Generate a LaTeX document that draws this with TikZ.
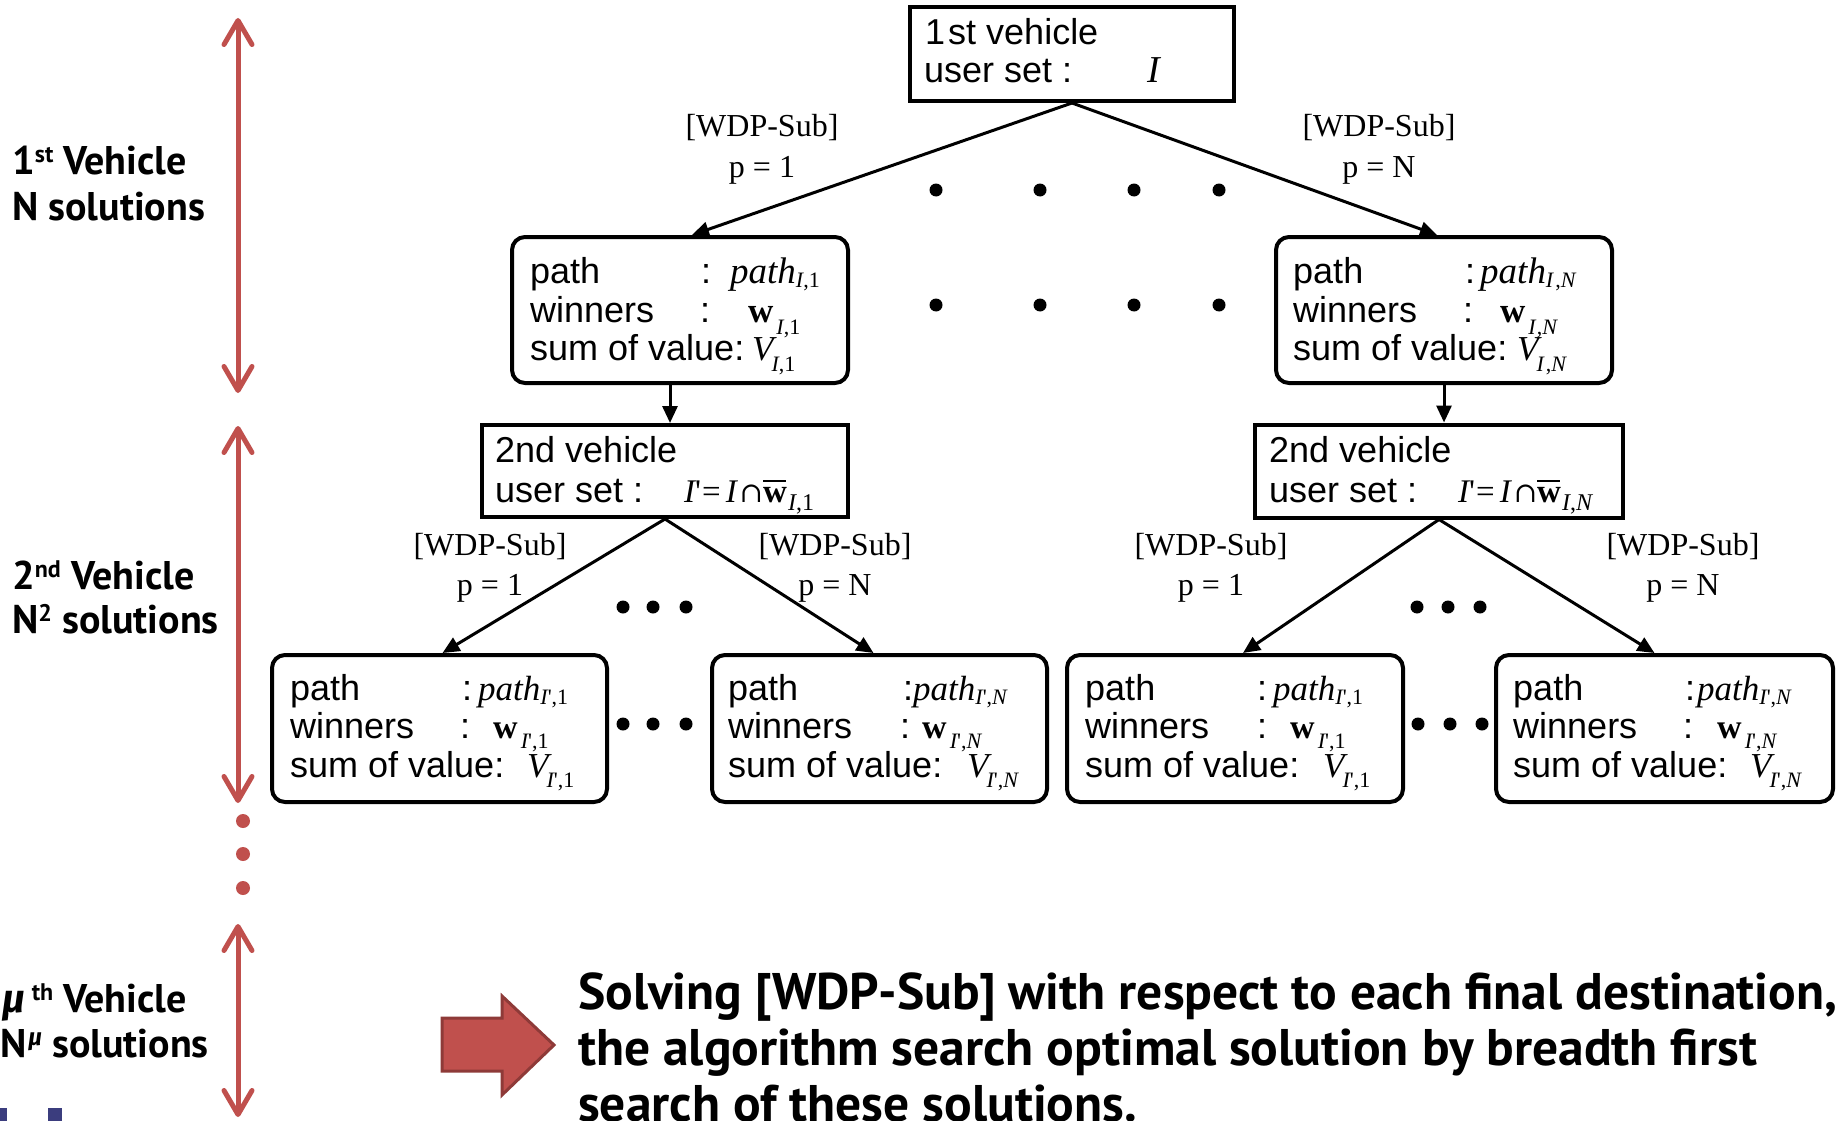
\documentclass[tikz,border=0pt]{standalone}
\usepackage{fontspec}
\setmainfont{Liberation Sans}
\newfontfamily\tnr{Liberation Serif}
\newfontfamily\symf{DejaVu Serif}
\newfontfamily\hd{PT Sans}
\newfontfamily\grk{Fira Sans}
\usetikzlibrary{arrows.meta,calc}
\definecolor{rd}{HTML}{C0504D}
\definecolor{rddark}{HTML}{8E3A38}
\definecolor{navy}{HTML}{3B3D7E}
\newcommand\fs[1]{\fontsize{#1}{#1}\selectfont}
% serif italic symbol, lowered index, barred bold w
\newcommand\ix[1]{{\itshape #1}}
\newcommand\low[2]{\raisebox{-#1pt}{\tnr\fs{22}\mdseries\upshape #2}}
\newcommand\wbar{\leavevmode\rlap{\raisebox{20pt}{\rule{23pt}{1.7pt}}}{\upshape\bfseries w}}
\newcommand\userset[1]{{\tnr\fs{33}\itshape I\upshape'\kern1pt=\kern5pt\itshape I\kern3pt{\symf\upshape\fs{28}∩}\wbar\kern1pt\low{8}{\fs{24}#1}}}
\begin{document}
\begin{tikzpicture}[x=1pt,y=-1pt,
  sqbox/.style={draw,line width=4pt,inner sep=0pt},
  rdbox/.style={draw,line width=4pt,inner sep=0pt,rounded corners=13pt,minimum width=336pt,minimum height=146pt},
  row/.style={inner sep=0pt,anchor=base west,font=\fs{36}},
  lab/.style={inner sep=0pt,font=\tnr\fs{32}},
  side/.style={inner sep=0pt,anchor=base west,font=\hd\bfseries\fs{40}},
  big/.style={inner sep=0pt,anchor=base west,font=\hd\bfseries\fs{51.5}},
  conn/.style={line width=3pt,-{Triangle[length=17pt,width=15pt]}},
  span/.style={rd,line width=5pt,{Straight Barb[length=24pt,width=28pt,line cap=round,line join=round]}-{Straight Barb[length=24pt,width=28pt,line cap=round,line join=round]}},
  dot/.style={fill=black},
  rdot/.style={fill=rd}]
\useasboundingbox (0,0) rectangle (1839,1121);
\begin{scope}
\clip (0,0) rectangle (1839,1121);

% ---------- boxes ----------
\node[sqbox,minimum width=324pt,minimum height=94pt] (v1) at (1072,54) {};
\node[rdbox] (l1a) at (680,310) {};
\node[rdbox] (l1b) at (1444,310) {};
\node[sqbox,minimum width=366pt,minimum height=92pt] (v2a) at (665,471) {};
\node[sqbox,minimum width=368pt,minimum height=93pt] (v2b) at (1439,471) {};
\node[rdbox,minimum width=335pt,minimum height=147pt] (l3a) at (439.5,728.5) {};
\node[rdbox,minimum width=335pt,minimum height=147pt] (l3b) at (879.5,728.5) {};
\node[rdbox,minimum width=336pt,minimum height=147pt] (l3c) at (1235,728.5) {};
\node[rdbox,minimum width=337pt,minimum height=147pt] (l3d) at (1664.5,728.5) {};

% ---------- first vehicle ----------
\node[row] (v1t) at (925,45) {1\kern3pt st vehicle};
\node[row] (v1u) at (924,83) {user set :};
\node[row] (v1i) at (1147,83) {\tnr\fs{38}\itshape I};

% ---------- first-level solutions ----------
\node[row] (a1) at (530,283) {path};
\node[row] (a2) at (701,283) {:};
\node[row] (a3) at (730,283) {\tnr\fs{37}\itshape path\low{4}{\ix{I},1}};
\node[row] (a4) at (530,322) {winners};
\node[row] (a5) at (700,322) {:};
\node[row] (a6) at (748,322) {\tnr\fs{35}\bfseries w\kern3pt\low{12}{\ix{I},1}};
\node[row] (a7) at (530,360) {sum of value:};
\node[row] (a8) at (752,360) {\tnr\fs{35}\itshape V\kern-2pt\low{11}{\ix{I},1}};

\node[row] (b1) at (1293,283) {path};
\node[row] (b2) at (1465,283) {:};
\node[row] (b3) at (1480,283) {\tnr\fs{37}\itshape path\low{4}{\ix{I}\kern2pt,\ix{N}}};
\node[row] (b4) at (1293,322) {winners};
\node[row] (b5) at (1463,322) {:};
\node[row] (b6) at (1500,322) {\tnr\fs{35}\bfseries w\kern3pt\low{12}{\ix{I}\kern1pt,\ix{N}}};
\node[row] (b7) at (1293,360) {sum of value:};
\node[row] (b8) at (1517,360) {\tnr\fs{35}\itshape V\kern-2pt\low{11}{\ix{I}\kern2pt,\ix{N}}};

% ---------- second vehicle ----------
\node[row] (c1) at (495,462) {2nd vehicle};
\node[row] (c2) at (495,502) {user set :};
\node[row] (c3) at (684,502) {\userset{\ix{I},1}};
\node[row] (d1) at (1269,462) {2nd vehicle};
\node[row] (d2) at (1269,502) {user set :};
\node[row] (d3) at (1458,502) {\userset{\ix{I},\ix{N}}};

% ---------- second-level solutions ----------
\foreach \nm/\sx/\cp/\mx/\cw/\wx/\vx/\sub in {
  e/290/462/478/460/493/527/{\ix{I}',1},
  f/728/903/913/900/922/967/{\ix{I}',\ix{N}},
  g/1085/1257/1273/1257/1290/1323/{\ix{I}',1},
  h/1513/1685/1697/1683/1717/1750/{\ix{I}',\ix{N}}}{
  \node[row] (\nm1) at (\sx,700) {path};
  \node[row] (\nm2) at (\cp,700) {:};
  \node[row] (\nm3) at (\mx,700) {\tnr\fs{35}\itshape path\low{4}{\sub}};
  \node[row] (\nm4) at (\sx,738) {winners};
  \node[row] (\nm5) at (\cw,738) {:};
  \node[row] (\nm6) at (\wx,738) {\tnr\fs{34}\bfseries w\kern3pt\low{10}{\sub}};
  \node[row] (\nm7) at (\sx,777) {sum of value:};
  \node[row] (\nm8) at (\vx,777) {\tnr\fs{35}\itshape V\kern-2pt\low{10}{\sub}};
}

% ---------- connectors ----------
\draw[conn] (v1.south) -- ($(l1a.north)+(12,0)$);
\draw[conn] (v1.south) -- ($(l1b.north)+(-7,0)$);
\path ($(l1a.south)+(-10,0)$) coordinate (da);
\path (l1b.south) coordinate (db);
\draw[conn] (da) -- (da |- v2a.north);
\draw[conn] (db) -- (db |- v2b.north);
\draw[conn] (v2a.south) -- ($(l3a.north)+(3,0)$);
\draw[conn] (v2a.south) -- ($(l3b.north)+(-6,0)$);
\draw[conn] (v2b.south) -- ($(l3c.north)+(8,0)$);
\draw[conn] (v2b.south) -- ($(l3d.north)+(-10,0)$);

% ---------- branch labels ----------
\node[lab] (p1) at (762,128) {[WDP-Sub]};
\node[lab] (p2) at (762,170) {p = 1};
\node[lab] (p3) at (1379,128) {[WDP-Sub]};
\node[lab] (p4) at (1379,170) {p = N};
\node[lab] (q1) at (490,547) {[WDP-Sub]};
\node[lab] (q2) at (490,588) {p = 1};
\node[lab] (q3) at (835,547) {[WDP-Sub]};
\node[lab] (q4) at (835,588) {p = N};
\node[lab] (q5) at (1211,547) {[WDP-Sub]};
\node[lab] (q6) at (1211,588) {p = 1};
\node[lab] (q7) at (1683,547) {[WDP-Sub]};
\node[lab] (q8) at (1683,588) {p = N};

% ---------- ellipsis dots ----------
\foreach \x in {936,1040,1134,1219}{
  \fill[dot] (\x,190) circle (6.5);
  \fill[dot] (\x,305) circle (6.5);
}
\foreach \x in {623,653,686,1417,1448,1480}{
  \fill[dot] (\x,607) circle (6.5);
}
\foreach \x in {623,653,686,1418,1450,1482}{
  \fill[dot] (\x,724) circle (6.5);
}

% ---------- level spans ----------
\coordinate (s1a) at (238,18);
\coordinate (s1b) at (238,393);
\coordinate (s2a) at (238,426);
\coordinate (s2b) at (238,803);
\coordinate (s3a) at (238,924);
\coordinate (s3b) at (238,1117);
\draw[span] (s1a) -- (s1b);
\draw[span] (s2a) -- (s2b);
\draw[span] (s3a) -- (s3b);
\foreach \y in {821,854,888}{
  \fill[rdot] (243,\y) circle (7);
}

\node[side] (t1) at (12,175) {1\raisebox{12pt}{\fs{24}st} Vehicle};
\node[side] (t2) at (12,220) {N solutions};
\node[side] (t3) at (12,589) {2\raisebox{12pt}{\fs{24}nd} Vehicle};
\node[side] (t4) at (12,633) {N\raisebox{12pt}{\fs{24}2} solutions};
\node[side] (t5) at (2,1012) {{\grk\itshape μ}\,\raisebox{12pt}{\fs{24}th} Vehicle};
\node[side] (t6) at (0,1057) {N\kern2pt\raisebox{12pt}{\fs{24}\grk\itshape μ} solutions};

% ---------- note ----------
\draw[fill=rd,draw=rddark,line width=3pt,line join=miter]
  (442,1018) -- (502,1018) -- (502,996) -- (554,1045) -- (502,1095) -- (502,1071) -- (442,1071) -- cycle;
\node[big] (n1) at (578,1009) {Solving [WDP-Sub] with respect to each final destination,};
\node[big] (n2) at (578,1065) {the algorithm search optimal solution by breadth first};
\node[big] (n3) at (578,1121) {search of these solutions.};

% corner marks
\fill[navy] (0,1108) rectangle (7,1121);
\fill[navy] (48,1108) rectangle (62,1121);
\end{scope}
\end{tikzpicture}
\end{document}
